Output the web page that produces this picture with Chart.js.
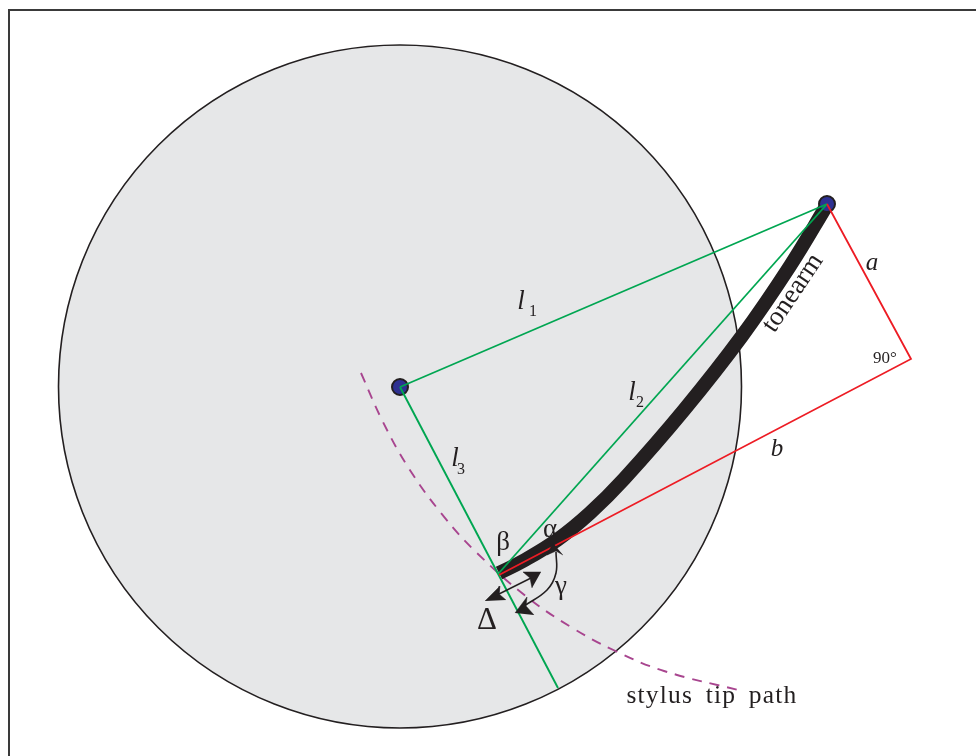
<!DOCTYPE html>
<html>
<head>
<meta charset="utf-8">
<title>tonearm geometry</title>
<script src="https://cdn.jsdelivr.net/npm/chart.js@4"></script>
<style>
  html, body { margin: 0; padding: 0; background: #fff; }
  canvas { display: block; }
</style>
</head>
<body>
<canvas id="diagram" width="976" height="756"></canvas>
<script>
// values, the axes run in picture units
const frameX = [9, 9, 976];
const frameY = [756, 10, 10];
const platterX = [400];
const platterY = [386.5];
const pathX = [361, 382, 408, 441, 477, 527, 572.5, 615.5, 664, 740];
const pathY = [373, 420, 467, 513, 553, 597, 628, 651, 671, 690.5];
// tonearm centre line
const armX = [827, 790, 742, 684, 624, 590, 557, 523, 499];
const armY = [205, 266, 336, 410, 479, 513, 540, 561, 573];
const l1X = [400, 827];
const l1Y = [387, 204];
const l2X = [827, 499];
const l2Y = [204, 573];
const l3X = [400, 558];
const l3Y = [387, 688];
const redX = [827, 911, 499];
const redY = [204, 359, 575];
const pivotX = [400, 827];
const pivotY = [387, 204];
const deltaX = [497, 531];
const deltaY = [595, 578];
const gammaX = [556, 556, 547, 524];
const gammaY = [552, 573, 590, 606];
// arrow heads: tip, barb, notch, barb
const headLeftX = [485, 500, 499, 506];
const headLeftY = [601, 586, 594, 600];
const headRightX = [541, 523, 530, 532];
const headRightY = [572, 572, 578, 588];
const headLowX = [515, 527, 526, 534];
const headLowY = [613, 597, 606, 615];
const headTopX = [553, 547, 556, 563];
const headTopY = [543, 555, 551, 555];

const labelTexts = ['l', '1', 'l', '2', 'l', '3', 'a', 'b', '90°', 'β', 'α', 'γ', 'Δ', 'stylus tip path', 'tonearm'];
const labelX = [521, 533, 632, 640, 455, 461, 872, 777, 885, 503, 550, 561, 487, 712, 793];
const labelY = [302, 312, 393, 403, 459, 470, 263, 449, 359, 543, 530, 587, 621, 696, 293];

const pts = (xs, ys) => xs.map((x, i) => ({ x, y: ys[i] }));
const ink = '#231f20';
const green = '#00a651';
const red = '#ed1c24';

const line = (xs, ys, color, width, order, extra) => Object.assign({
  data: pts(xs, ys),
  showLine: true,
  borderColor: color,
  borderWidth: width,
  pointRadius: 0,
  clip: false,
  order
}, extra);

const shape = (xs, ys, order) => line(xs, ys, ink, 0.5, order, { fill: 'shape', backgroundColor: ink });

// text goes through the same scales as the marks
const labelPlugin = {
  id: 'labels',
  afterDatasetsDraw(chart) {
    const ctx = chart.ctx;
    const fonts = [
      'italic 27px "Liberation Serif"', '16px "Liberation Serif"',
      'italic 27px "Liberation Serif"', '16px "Liberation Serif"',
      'italic 27px "Liberation Serif"', '16px "Liberation Serif"',
      'italic 25px "Liberation Serif"', 'italic 25px "Liberation Serif"',
      '17px "Liberation Serif"', '27px "Liberation Serif"',
      '27px "Liberation Serif"', '27px "Liberation Serif"',
      '31px "Liberation Serif"', '25.5px "Liberation Serif"',
      '27px "Liberation Serif"'
    ];
    labelTexts.forEach((text, i) => {
      ctx.save();
      ctx.translate(chart.scales.x.getPixelForValue(labelX[i]), chart.scales.y.getPixelForValue(labelY[i]));
      if (text === 'tonearm') ctx.rotate(-56 * Math.PI / 180);
      if (text === 'stylus tip path') {
        ctx.letterSpacing = '1.2px';
        ctx.wordSpacing = '5px';
      }
      ctx.font = fonts[i];
      ctx.fillStyle = ink;
      ctx.textAlign = 'center';
      ctx.textBaseline = 'middle';
      ctx.fillText(text, 0, 0);
      ctx.restore();
    });
  }
};

new Chart(document.getElementById('diagram').getContext('2d'), {
  type: 'scatter',
  data: {
    datasets: [
      {
        data: pts(platterX, platterY),
        pointRadius: 341.5,
        backgroundColor: '#e6e7e8',
        borderColor: ink,
        borderWidth: 1.6,
        clip: false,
        order: 9
      },
      line(frameX, frameY, '#3a3a3a', 2, 8),
      line(pathX, pathY, '#a8458f', 1.9, 7, { borderDash: [10, 8], tension: 0.4 }),
      line(armX, armY, ink, 14, 5, { tension: 0.4 }),
      {
        data: pts(pivotX, pivotY),
        pointRadius: 8,
        backgroundColor: '#2e3192',
        borderColor: ink,
        borderWidth: 2,
        clip: false,
        order: 4
      },
      line(l1X, l1Y, green, 1.8, 3),
      line(l2X, l2Y, green, 1.8, 3),
      line(l3X, l3Y, green, 1.9, 3),
      line(redX, redY, red, 1.8, 2),
      line(deltaX, deltaY, ink, 1.5, 2),
      line(gammaX, gammaY, ink, 1.6, 2, { tension: 0.4 }),
      shape(headLeftX, headLeftY, 1),
      shape(headRightX, headRightY, 1),
      shape(headLowX, headLowY, 1),
      shape(headTopX, headTopY, 1)
    ]
  },
  options: {
    responsive: false,
    animation: false,
    layout: { padding: 0, autoPadding: false },
    plugins: { legend: { display: false }, tooltip: { enabled: false } },
    scales: {
      x: { type: 'linear', min: 0, max: 976, display: false },
      y: { type: 'linear', min: 0, max: 756, reverse: true, display: false }
    }
  },
  plugins: [labelPlugin]
});
</script>
</body>
</html>
